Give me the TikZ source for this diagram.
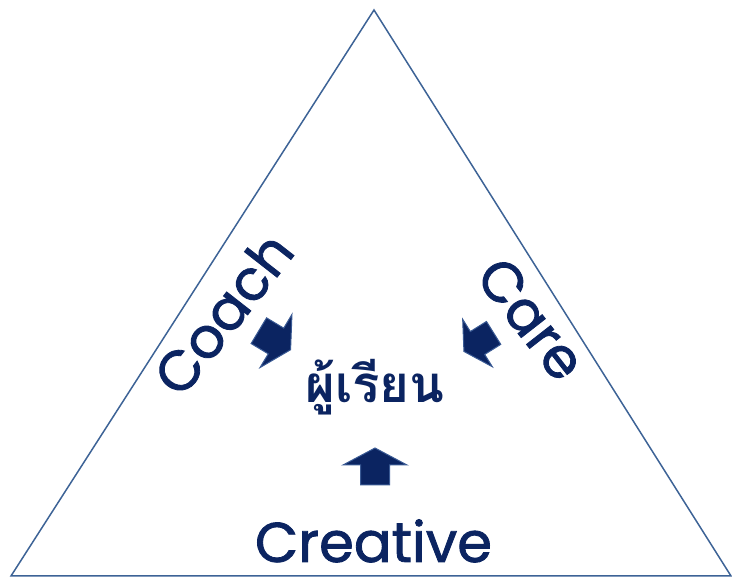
\documentclass[tikz,border=0pt]{standalone}
\usepackage{fontspec}
\setmainfont{Poppins}
\newfontfamily\lblfont{Poppins}[FakeBold=1.5]
\newfontfamily\thaifont[Script=Thai]{Loma}
\definecolor{txtblue}{HTML}{0B2461}
\definecolor{edgeblue}{HTML}{3D6396}
\definecolor{arrowedge}{HTML}{3A5A94}
\tikzset{
  lbl/.style={text=txtblue, inner sep=0pt, font=\lblfont\fontsize{56}{60}\selectfont},
  thailbl/.style={text=txtblue, inner sep=0pt, font=\thaifont\bfseries\fontsize{51}{56}\selectfont},
  tri/.style={draw=edgeblue, line width=1.5pt, line join=miter},
  blockarrow/.style={fill=txtblue, draw=arrowedge, line width=1pt, line join=miter}
}
\begin{document}
\begin{tikzpicture}[x=1pt,y=1pt]
\useasboundingbox (0,0) rectangle (732,578);
\coordinate (A) at (374,568);
\coordinate (B) at (11,2);
\coordinate (C) at (731,2);
\draw[tri] (A) -- (B) -- (C) -- cycle;

\node[lbl, rotate=52, anchor=base] (coach) at (239,252) {Coach};
\node[lbl, rotate=-52, anchor=base] (care) at (516,247) {Care};
\node[lbl, anchor=base] (creative) at (373.5,16) {Creative};
\node[thailbl, anchor=base] (learner) at (375,175) {ผู้เรียน};

% up arrow
\begin{scope}[shift={(375,113)}, rotate=90]
\path[blockarrow] (0,-32) -- (17,0) -- (0,32) -- (0,14.5) -- (-20,14.5) -- (-20,-14.5) -- (0,-14.5) -- cycle;
\end{scope}
% coach arrow
\begin{scope}[shift={(276,237)}, rotate=-31]
\path[blockarrow] (0,-31) -- (17,0) -- (0,31) -- (0,15) -- (-20,15) -- (-20,-15) -- (0,-15) -- cycle;
\end{scope}
% care arrow
\begin{scope}[shift={(477.5,235)}, rotate=212]
\path[blockarrow] (0,-28) -- (16,0) -- (0,28) -- (0,13.5) -- (-19,13.5) -- (-19,-13.5) -- (0,-13.5) -- cycle;
\end{scope}
\end{tikzpicture}
\end{document}
